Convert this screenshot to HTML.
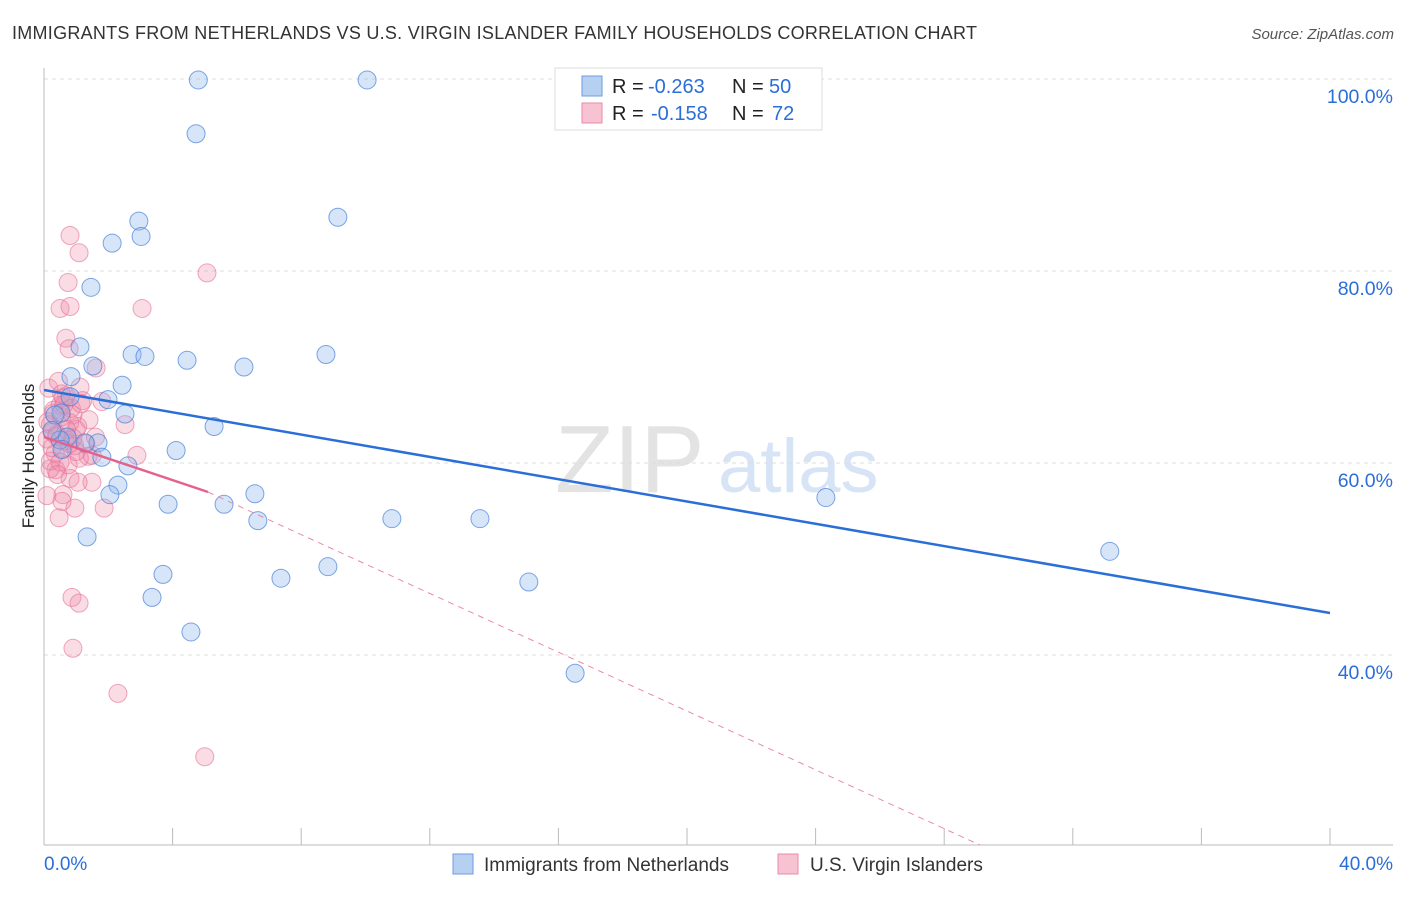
<!DOCTYPE html>
<html><head><meta charset="utf-8"><style>
body{margin:0;background:#fff;font-family:"Liberation Sans",sans-serif;}
svg text{font-family:"Liberation Sans",sans-serif;}
</style></head><body>
<svg id="chart" width="1406" height="892">
<text x="12" y="39" font-size="18" fill="#333" textLength="965">IMMIGRANTS FROM NETHERLANDS VS U.S. VIRGIN ISLANDER FAMILY HOUSEHOLDS CORRELATION CHART</text>
<text x="1394" y="39" font-size="15" fill="#555" font-style="italic" text-anchor="end">Source: ZipAtlas.com</text>
<text x="0" y="0" font-size="17" fill="#222" transform="translate(34,456) rotate(-90)" text-anchor="middle">Family Households</text>
<g><text x="555" y="492" font-size="96" fill="#e3e3e3" font-family="Liberation Serif">ZIP</text><text x="718" y="492" font-size="76" fill="#d6e4f5">atlas</text></g>
<g id="grid"></g><g id="axes"></g><g id="pts"></g><g id="lines"></g>
<g>
<rect x="555" y="68" width="267" height="62" fill="#fff" stroke="#ddd"/>
<rect x="582" y="76" width="20" height="20" fill="#b6d0f2" stroke="#6f9be0"/>
<rect x="582" y="103" width="20" height="20" fill="#f7c3d3" stroke="#e98aa8"/>
<text x="612" y="93" font-size="20" fill="#222">R =</text><text x="648" y="93" font-size="20" fill="#2a6ed8">-0.263</text>
<text x="732" y="93" font-size="20" fill="#222">N =</text><text x="769" y="93" font-size="20" fill="#2a6ed8">50</text>
<text x="612" y="120" font-size="20" fill="#222">R =</text><text x="651" y="120" font-size="20" fill="#2a6ed8">-0.158</text>
<text x="732" y="120" font-size="20" fill="#222">N =</text><text x="772" y="120" font-size="20" fill="#2a6ed8">72</text>
</g>
<g>
<rect x="453" y="854" width="20" height="20" fill="#b6d0f2" stroke="#6f9be0"/>
<text x="484" y="871" font-size="19" fill="#333">Immigrants from Netherlands</text>
<rect x="778" y="854" width="20" height="20" fill="#f7c3d3" stroke="#e98aa8"/>
<text x="810" y="871" font-size="19" fill="#333">U.S. Virgin Islanders</text>
</g>
</svg>
<script>
const blueX=[4.8,10.05,4.73,2.95,2.12,3.02,9.14,1.46,1.12,2.74,3.14,4.45,6.22,8.77,0.84,1.52,2.43,1.99,2.52,5.29,0.53,0.72,1.68,4.11,1.8,2.61,2.3,2.05,3.86,5.6,6.56,6.65,10.82,13.56,24.32,33.15,1.34,7.37,8.83,3.7,3.36,15.08,4.57,16.52,0.5,0.34,0.56,0.81,1.28,0.25];
const blueY=[99.9,99.9,94.3,85.2,82.9,83.6,85.6,78.3,72.1,71.3,71.1,70.7,70,71.3,69,70.1,68.1,66.6,65.1,63.8,65.2,62.7,62.1,61.3,60.6,59.7,57.7,56.7,55.7,55.7,56.8,54,54.2,54.2,56.4,50.8,52.3,48,49.2,48.4,46,47.6,42.4,38.1,62.4,65,61.4,66.9,62.1,63.4];
const pinkX=[0.81,1.09,5.07,0.75,0.5,0.81,3.05,0.68,0.78,1.62,1.12,2.52,1.37,2.89,0.37,0.81,1.49,1.06,0.59,0.09,1.87,0.96,0.47,0.87,1.09,0.9,2.3,5.0,0.56,0.19,
0.1,0.2,0.3,0.4,0.5,0.6,0.7,0.8,0.9,1.0,1.1,1.2,1.3,1.4,1.5,0.15,0.25,0.35,0.45,0.55,0.65,0.75,0.85,0.95,1.05,1.15,0.2,0.4,0.6,0.8,1.0,0.3,0.5,0.7,0.9,0.12,0.42,0.62,1.6,1.8,0.25,0.55];
const pinkY=[83.7,81.9,79.8,78.8,76.1,76.3,76.1,73,71.9,69.9,67.9,64,60.7,60.8,59.3,58.4,58,58,56.7,56.6,55.3,55.3,54.3,46,45.4,40.7,36,29.4,56,59.4,
62.5,64,65.5,63,66,61.5,67,62,65,63.5,60.5,66.5,62,64.5,60.8,67.8,63.2,61,68.5,64.8,62.3,59.8,65.7,61.8,63.8,66.2,60.2,62.8,66.8,64.2,61.2,65.2,60.1,63.5,62.6,64.3,58.8,66.1,62.7,66.4,61.6,67.2];
const yTicks=[40,60,80,100];
const X=v=>44+v*32.15, Y=v=>1039-v*9.6;
const NS="http://www.w3.org/2000/svg";
function mk(p,t,a){const e=document.createElementNS(NS,t);for(const k in a)e.setAttribute(k,a[k]);document.getElementById(p).appendChild(e);return e;}
yTicks.forEach(t=>{const l=mk('grid','line',{x1:44,x2:1393,y1:Y(t),y2:Y(t),stroke:'#ddd','stroke-dasharray':'4,4'});


const tx=mk('grid','text',{x:1393,y:Y(t)+24,'font-size':19.5,fill:'#2a6ed8','text-anchor':'end'});tx.textContent=t.toFixed(1)+'%';

});
mk('axes','line',{x1:44,x2:44,y1:68,y2:845,stroke:'#bbb'});
mk('axes','line',{x1:44,x2:1393,y1:845,y2:845,stroke:'#bbb'});
for(let i=0;i<=10;i++){mk('axes','line',{x1:X(i*4),x2:X(i*4),y1:828,y2:845,stroke:'#bbb'});}
[[0,'start',44],[40,'end',1393]].forEach(([v,a,x])=>{const t=mk('axes','text',{x:x,y:870,'font-size':19,fill:'#2a6ed8','text-anchor':a});t.textContent=v.toFixed(1)+'%';

});
pinkX.forEach((v,i)=>{const c=mk('pts','circle',{cx:X(v),cy:Y(pinkY[i]),r:9,fill:'rgba(240,140,170,0.3)',stroke:'rgba(230,110,150,0.6)','stroke-width':1});

});
blueX.forEach((v,i)=>{const c=mk('pts','circle',{cx:X(v),cy:Y(blueY[i]),r:9,fill:'rgba(140,180,235,0.35)',stroke:'rgba(60,120,215,0.65)','stroke-width':1});

});
const bl=mk('lines','line',{x1:X(0),y1:390,x2:X(40),y2:613,stroke:'#2a6ed8','stroke-width':2.5});


const pl=mk('lines','line',{x1:X(0),y1:437,x2:208,y2:492,stroke:'#e5628d','stroke-width':2.5});


const pd=mk('lines','line',{x1:208,y1:492,x2:980,y2:845,stroke:'#e98aa8','stroke-width':1,'stroke-dasharray':'6,5'});


</script>
</body></html>
